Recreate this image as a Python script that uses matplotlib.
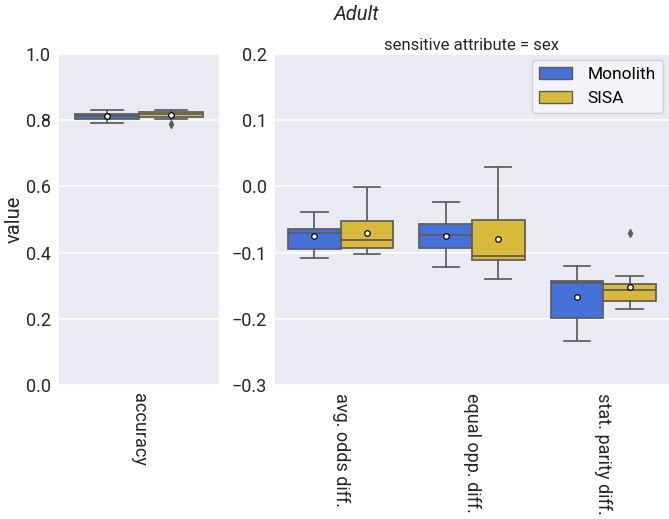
import matplotlib.pyplot as plt
from matplotlib.patches import Patch

# box statistics (one entry per metric)
left_metrics = ["accuracy"]
right_metrics = ["avg. odds diff.", "equal opp. diff.", "stat. parity diff."]
models = ["Monolith", "SISA"]

mono_q1 = [0.805, -0.0946, -0.0935, -0.1993]
mono_med = [0.812, -0.070, -0.073, -0.1464]
mono_q3 = [0.819, -0.0639, -0.0568, -0.1434]
mono_lo = [0.792, -0.1077, -0.1217, -0.2335]
mono_hi = [0.830, -0.0382, -0.024, -0.1208]
mono_mean = [0.813, -0.0754, -0.0744, -0.1666]
mono_fliers = [[], [], [], []]

sisa_q1 = [0.809, -0.0926, -0.1117, -0.1731]
sisa_med = [0.818, -0.0815, -0.1047, -0.157]
sisa_q3 = [0.825, -0.0527, -0.0508, -0.1474]
sisa_lo = [0.805, -0.1026, -0.1399, -0.1847]
sisa_hi = [0.830, -0.0005, 0.0293, -0.1353]
sisa_mean = [0.815, -0.070, -0.0799, -0.1524]
sisa_fliers = [[0.788], [], [], [-0.0709]]

colors = ["#4571D8", "#D9B93A"]
line_gray = "#5c5c5c"
lw = 1.25

plt.rcParams["font.family"] = ["Roboto", "DejaVu Sans"]
plt.rcParams["axes.unicode_minus"] = True


def make_stats(q1, med, q3, lo, hi, mean, fliers):
    return [dict(q1=a, med=b, q3=c, whislo=d, whishi=e, mean=f, fliers=g)
            for a, b, c, d, e, f, g in zip(q1, med, q3, lo, hi, mean, fliers)]


mono = make_stats(mono_q1, mono_med, mono_q3, mono_lo, mono_hi, mono_mean, mono_fliers)
sisa = make_stats(sisa_q1, sisa_med, sisa_q3, sisa_lo, sisa_hi, sisa_mean, sisa_fliers)

fig = plt.figure(figsize=(6.69, 5.19), dpi=100)
W, H = 669, 519
ax_l = fig.add_axes([59 / W, (H - 385) / H, 160 / W, 331 / H])
ax_r = fig.add_axes([275 / W, (H - 385) / H, 394 / W, 331 / H])


def draw(ax, groups, names):
    ax.set_facecolor("#EAEAF2")
    for s in ax.spines.values():
        s.set_visible(False)
    ax.yaxis.grid(True, color="white", linewidth=1.1)
    ax.set_axisbelow(True)
    for k, (stats, col) in enumerate(zip(groups, colors)):
        pos = [i - 0.2 + 0.4 * k for i in range(len(names))]
        ax.bxp(stats, positions=pos, widths=0.4, patch_artist=True, showmeans=True,
               boxprops=dict(facecolor=col, edgecolor=line_gray, linewidth=lw),
               medianprops=dict(color=line_gray, linewidth=lw),
               whiskerprops=dict(color=line_gray, linewidth=lw),
               capprops=dict(color=line_gray, linewidth=lw),
               meanprops=dict(marker="o", markerfacecolor="white",
                              markeredgecolor="black", markersize=4,
                              markeredgewidth=0.9),
               flierprops=dict(marker="d", markerfacecolor=line_gray,
                               markeredgecolor=line_gray, markersize=4))
    ax.set_xlim(-0.5, len(names) - 0.5)
    ax.set_xticks(range(len(names)))
    ax.set_xticklabels(names, rotation=-90, fontsize=13, color="#262626")
    ax.tick_params(axis="both", length=0, labelsize=13, labelcolor="#262626", pad=6)


draw(ax_l, [mono[:1], sisa[:1]], left_metrics)
ax_l.set_ylim(0.0, 1.0)
ax_l.set_yticks([0.0, 0.2, 0.4, 0.6, 0.8, 1.0])
ax_l.set_ylabel("value", fontsize=14.5, color="#262626")
ax_l.yaxis.set_label_coords(-35 / 160, 0.5)

draw(ax_r, [mono[1:], sisa[1:]], right_metrics)
ax_r.set_ylim(-0.3, 0.2)
ax_r.set_yticks([-0.3, -0.2, -0.1, 0.0, 0.1, 0.2])
ax_r.set_title("sensitive attribute = sex", fontsize=12, color="#262626", pad=3)

handles = [Patch(facecolor=c, edgecolor=line_gray, label=m) for m, c in zip(models, colors)]
ax_r.legend(handles=handles, loc="upper right", fontsize=12.5, frameon=True,
            facecolor="#F4F4F8", edgecolor="#d0d0d0", framealpha=1,
            handlelength=1.9, handletextpad=0.9, borderaxespad=0.35)

fig.text(357 / W, 1 - 15 / H, "Adult", ha="center", va="center",
         fontsize=14.5, style="italic", color="#262626")

fig.savefig("out.png", dpi=100)
